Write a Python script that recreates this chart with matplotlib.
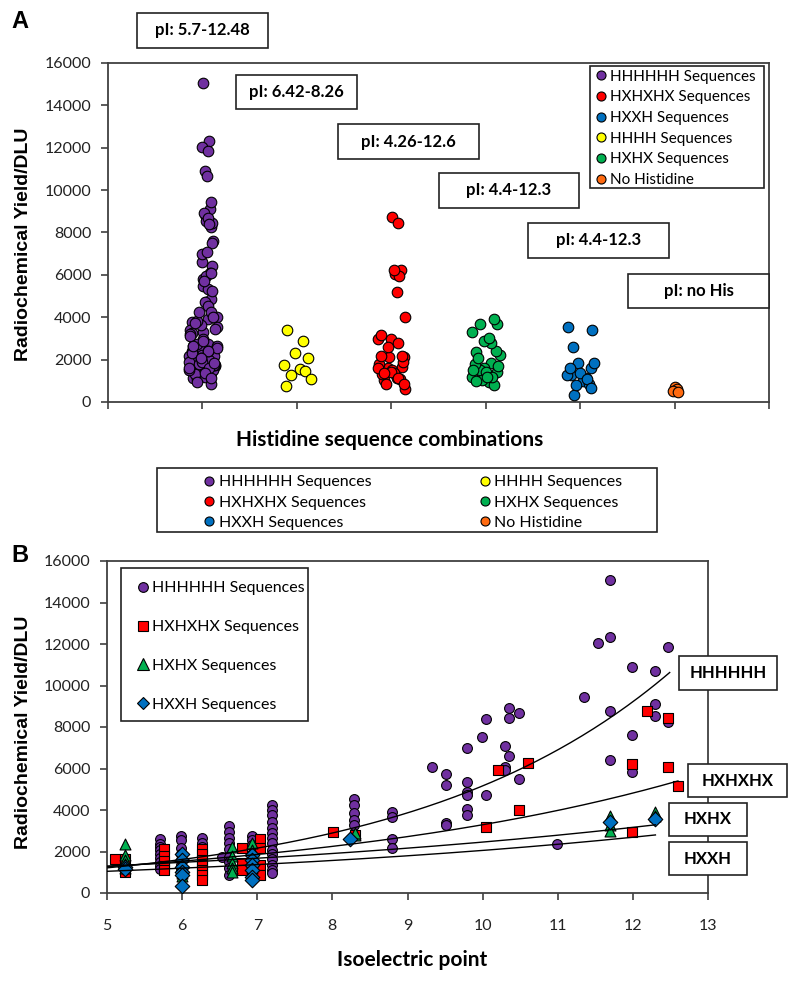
import matplotlib
matplotlib.use("Agg")
import matplotlib.pyplot as plt
import numpy as np
from matplotlib.lines import Line2D
from matplotlib.patches import Rectangle

plt.rcParams["font.family"] = ["Lato", "DejaVu Sans"]

# ------------------------------------------------------------------
# data (pI, radiochemical yield / DLU)
# ------------------------------------------------------------------
hhhhhh_pi = [11.70, 11.70, 11.70, 11.70, 11.53, 12.47, 12.47, 11.99, 11.99, 11.99,
             12.30, 12.30, 12.30, 11.35, 10.35, 10.35, 10.35, 10.48, 10.48, 10.04,
             10.04, 9.99, 9.79, 9.79, 9.79, 9.79, 9.79, 9.79, 10.30, 10.30,
             10.30, 9.32, 9.51, 9.51, 9.51, 9.51, 10.99, 8.79, 8.79, 8.79,
             8.79, 8.29, 8.29, 8.29, 8.29, 8.29,
             5.71, 5.71, 5.71, 5.71, 5.71, 5.71, 5.71, 5.71, 5.71,
             5.98, 5.98, 5.98, 5.98, 5.98, 5.98, 5.98,
             6.27, 6.27, 6.27, 6.27, 6.27, 6.27, 6.27, 6.53,
             6.63, 6.63, 6.63, 6.63, 6.63, 6.63, 6.63, 6.63, 6.63,
             6.93, 6.93, 6.93, 6.93, 6.93,
             7.19, 7.19, 7.19, 7.19, 7.19, 7.19, 7.19, 7.19, 7.19, 7.19,
             7.19, 7.19, 7.19, 7.19]
hhhhhh_yield = [15070, 12340, 8750, 6410, 12030, 11870, 8260, 10890, 7610, 5820,
                10680, 9110, 8520, 9430, 8900, 8450, 6600, 8690, 5480, 8390,
                4720, 7520, 6970, 5330, 4850, 4720, 4030, 3760, 7070, 6090,
                5930, 6070, 5720, 5220, 3390, 3300, 2350, 3920, 3650, 2590,
                2150, 4510, 4240, 3840, 3520, 3270,
                2600, 2360, 2200, 2080, 1900, 1700, 1500, 1300, 1150,
                2760, 2550, 2190, 1900, 1600, 1350, 1100,
                2630, 2410, 2200, 2000, 1800, 1500, 1300, 1750,
                3230, 2960, 2640, 2400, 2100, 1750, 1500, 1200, 870,
                2750, 2550, 2300, 1900, 1600,
                4240, 4000, 3750, 3430, 3110, 2900, 2650, 2410, 2090, 1860,
                1620, 1370, 1130, 940]

hxhxhx_pi = [12.19, 12.47, 12.47, 11.99, 11.99, 12.60, 10.20, 10.60, 10.48, 10.04,
             8.01, 8.30, 5.11, 5.24, 5.24,
             5.76, 5.76, 5.76, 5.76, 5.76,
             6.27, 6.27, 6.27, 6.27, 6.27, 6.27, 6.27,
             6.80, 6.80, 6.80, 7.03, 7.03, 7.03, 7.03]
hxhxhx_yield = [8750, 8450, 6050, 6210, 2950, 5170, 5940, 6250, 4000, 3170,
                2950, 2800, 1620, 1650, 1030,
                2120, 1780, 1530, 1300, 1110,
                2120, 1870, 1600, 1350, 1100, 850, 620,
                2180, 1430, 1110, 2590, 2180, 1370, 870]

hxhx_pi = [5.24, 5.24, 5.24, 5.24, 5.24, 6.00, 6.00, 6.00,
           6.67, 6.67, 6.67, 6.67, 6.67, 6.93, 6.93, 6.93, 6.93, 6.93, 6.93,
           8.30, 8.30, 11.70, 11.70, 11.70, 12.30, 12.30]
hxhx_yield = [2360, 1830, 1600, 1400, 1200, 950, 800, 1500,
              2230, 1800, 1430, 1200, 1030, 2400, 2090, 1700, 1500, 1200, 1000,
              2790, 2900, 3700, 3300, 3000, 3900, 3700]

hxxh_pi = [5.24, 5.24, 6.00, 6.00, 6.00, 6.00, 6.00, 6.00,
           6.93, 6.93, 6.93, 6.93, 6.93, 6.93, 8.24, 11.70, 12.30]
hxxh_yield = [1270, 1150, 1860, 1600, 1270, 1000, 870, 350,
              1830, 1600, 1350, 1100, 790, 650, 2590, 3400, 3550]

hhhh_yield = [3420, 2880, 2330, 2080, 1750, 1560, 1470, 1260, 1100, 760]
nohis_yield = [700, 600, 500, 450]

# exponential trendlines: y = a * exp(b * pI)
trend_names = ["HHHHHH", "HXHXHX", "HXHX", "HXXH"]
trend_a = [284, 489, 689, 533]
trend_b = [0.290, 0.1906, 0.127, 0.1348]
trend_start = [5.0, 5.0, 5.0, 5.0]
trend_end = [12.49, 12.60, 12.30, 12.30]

pi_ranges = ["pI: 5.7-12.48", "pI: 6.42-8.26", "pI: 4.26-12.6",
             "pI: 4.4-12.3", "pI: 4.4-12.3", "pI: no His"]

PURPLE, RED, BLUE = "#7030A0", "#FF0000", "#0070C0"
YELLOW, GREEN, ORANGE = "#FFFF00", "#00B050", "#FF6A10"

W, H = 800, 984
fig = plt.figure(figsize=(W / 100, H / 100), dpi=100)


def fbox(x0, y0, x1, y1):
    # figure-fraction rectangle from pixel corners (top-left origin)
    return [x0 / W, 1 - y1 / H, (x1 - x0) / W, (y1 - y0) / H]


def rect(x0, y0, x1, y1, lw=1.2):
    r = Rectangle((x0 / W, 1 - y1 / H), (x1 - x0) / W, (y1 - y0) / H,
                  transform=fig.transFigure, facecolor="white",
                  edgecolor="#222222", lw=lw, zorder=5)
    fig.add_artist(r)


def style_axes(ax):
    for s in ax.spines.values():
        s.set_color("#404040")
        s.set_linewidth(1.3)
    ax.tick_params(direction="out", length=5, width=1.2, color="#404040",
                   labelsize=11.5, labelcolor="#222222")


# ------------------------------------------------------------------
# Panel A
# ------------------------------------------------------------------
axA = fig.add_axes(fbox(108, 63, 769, 402))
style_axes(axA)
axA.tick_params(axis="y", pad=7)

jitter = [-0.10, 0.06, -0.02, 0.12, -0.14, 0.03, 0.09, -0.06, 0.15,
          -0.11, 0.0, 0.07, -0.04, 0.11, -0.08, 0.13, -0.13, 0.01]


def strip(cat, vals, color):
    xs = []
    for i, v in enumerate(vals):
        j = jitter[i % len(jitter)]
        if v > 4500:
            j = 0.05 + 0.4 * j
        xs.append(cat + j)
    axA.scatter(xs, vals, s=58, c=color, edgecolors="black", linewidths=0.8, zorder=3)


strip(1, hhhhhh_yield, PURPLE)
strip(2, hhhh_yield, YELLOW)
strip(3, hxhxhx_yield, RED)
strip(4, hxhx_yield, GREEN)
strip(5, hxxh_yield, BLUE)
axA.scatter([6, 6.03, 5.98, 6.04], nohis_yield, s=58, c=ORANGE,
            edgecolors="black", linewidths=0.8, zorder=3)

axA.set_xlim(0, 7)
axA.set_ylim(0, 16000)
axA.set_xticks(range(8))
axA.set_xticklabels([])
axA.set_yticks(range(0, 16001, 2000))

# legend in panel A
legA_labels = ["HHHHHH Sequences", "HXHXHX Sequences", "HXXH Sequences",
               "HHHH Sequences", "HXHX Sequences", "No Histidine"]
legA_colors = [PURPLE, RED, BLUE, YELLOW, GREEN, ORANGE]
handles = [Line2D([], [], ls="none", marker="o", ms=6.5, mfc=c, mec="black", mew=0.8)
           for c in legA_colors]
rect(590, 66, 764, 188)
fig.legend(handles, legA_labels, loc="upper left", bbox_to_anchor=(592 / W, 1 - 65 / H),
           frameon=False, fontsize=11, handlelength=0.6, handletextpad=0.3,
           labelspacing=0.44, borderpad=0.3, borderaxespad=0).set_zorder(6)

# pI range boxes
boxesA = [(137, 13, 268, 48), (236, 75, 357, 109), (338, 124, 479, 159),
          (439, 173, 579, 208), (528, 223, 669, 258), (628, 274, 769, 308)]
for (x0, y0, x1, y1), t in zip(boxesA, pi_ranges):
    rect(x0, y0, x1, y1)
    fig.text((x0 + x1) / 2 / W, 1 - (y0 + y1) / 2 / H, t, ha="center", va="center",
             fontsize=12, fontweight="bold", zorder=6)

fig.text(20 / W, 1 - 22 / H, "A", fontsize=17, fontweight="bold", ha="center",
         va="center", family="Liberation Sans")
fig.text(24 / W, 1 - 244 / H, "Radiochemical Yield/DLU", rotation=90, fontsize=14,
         fontweight="bold", ha="center", va="center", family="Liberation Sans")
fig.text(390 / W, 1 - 440 / H, "Histidine sequence combinations", fontsize=15,
         fontweight="bold", ha="center", va="center")

# shared legend between panels
rect(157, 468, 657, 532)
leg_mid = fig.legend(handles, legA_labels,
                     ncol=2, loc="upper left", bbox_to_anchor=(201 / W, 1 - 472 / H),
                     frameon=False, fontsize=11.5, handlelength=0.6, handletextpad=0.3,
                     labelspacing=0.38, columnspacing=6.8, borderpad=0.2, borderaxespad=0)
leg_mid.set_zorder(6)

# ------------------------------------------------------------------
# Panel B
# ------------------------------------------------------------------
axB = fig.add_axes(fbox(107, 561, 708, 893))
style_axes(axB)
axB.tick_params(axis="x", pad=14)
axB.tick_params(axis="y", pad=7)

axB.scatter(hhhhhh_pi, hhhhhh_yield, s=50, marker="o", c=PURPLE,
            edgecolors="black", linewidths=0.8, zorder=3)
axB.scatter(hxhxhx_pi, hxhxhx_yield, s=52, marker="s", c=RED,
            edgecolors="black", linewidths=0.8, zorder=3)
axB.scatter(hxhx_pi, hxhx_yield, s=62, marker="^", c=GREEN,
            edgecolors="black", linewidths=0.8, zorder=3)
axB.scatter(hxxh_pi, hxxh_yield, s=55, marker="D", c=BLUE,
            edgecolors="black", linewidths=0.8, zorder=3)

for a, b, x0, x1 in zip(trend_a, trend_b, trend_start, trend_end):
    xx = np.linspace(x0, x1, 200)
    axB.plot(xx, a * np.exp(b * xx), color="black", lw=1.0, zorder=4)

axB.set_xlim(5, 13)
axB.set_ylim(0, 16000)
axB.set_xticks(range(5, 14))
axB.set_yticks(range(0, 16001, 2000))

rect(121, 568, 308, 721)
handlesB = [Line2D([], [], ls="none", marker=m, ms=ms, mfc=c, mec="black", mew=0.8)
            for m, c, ms in [("o", PURPLE, 7), ("s", RED, 7), ("^", GREEN, 8), ("D", BLUE, 6.5)]]
fig.legend(handlesB, ["HHHHHH Sequences", "HXHXHX Sequences", "HXHX Sequences",
                      "HXXH Sequences"],
           loc="upper left", bbox_to_anchor=(137 / W, 1 - 581 / H), frameon=False,
           fontsize=11.5, handlelength=0.7, handletextpad=0.25, labelspacing=1.55,
           borderpad=0, borderaxespad=0).set_zorder(6)

boxesB = [(679, 656, 777, 690), (688, 764, 787, 797), (669, 803, 747, 836),
          (669, 842, 747, 875)]
for (x0, y0, x1, y1), t in zip(boxesB, trend_names):
    rect(x0, y0, x1, y1)
    fig.text((x0 + x1) / 2 / W, 1 - (y0 + y1) / 2 / H, t, ha="center", va="center",
             fontsize=12, fontweight="bold", zorder=6)

fig.text(20 / W, 1 - 555 / H, "B", fontsize=17, fontweight="bold", ha="center",
         va="center", family="Liberation Sans")
fig.text(24 / W, 1 - 732 / H, "Radiochemical Yield/DLU", rotation=90, fontsize=14,
         fontweight="bold", ha="center", va="center", family="Liberation Sans")
fig.text(412 / W, 1 - 960 / H, "Isoelectric point", fontsize=15,
         fontweight="bold", ha="center", va="center")

fig.savefig("out.png", dpi=100)
